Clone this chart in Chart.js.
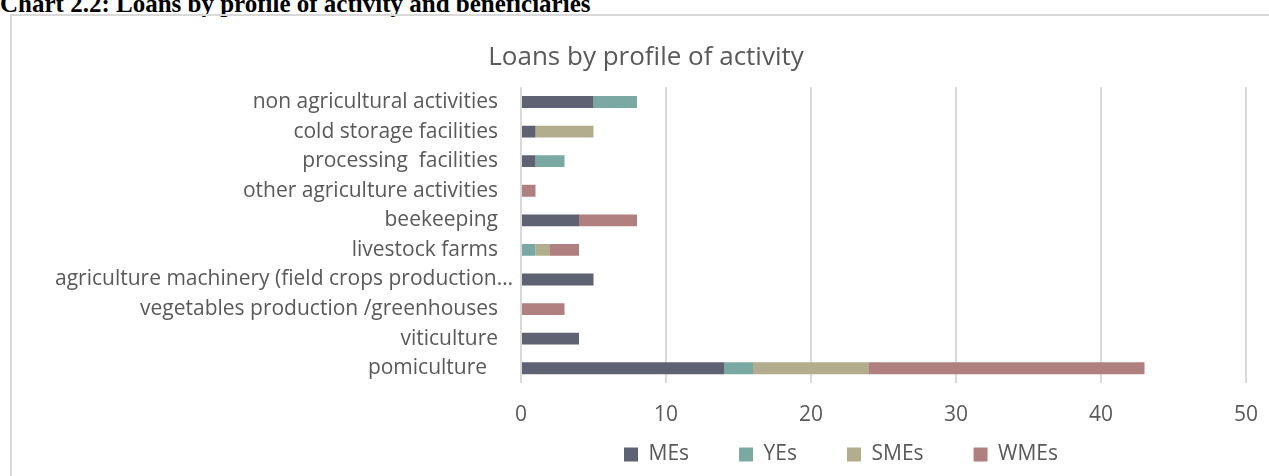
<!DOCTYPE html>
<html>
<head>
<meta charset="utf-8">
<script src="https://cdn.jsdelivr.net/npm/chart.js@4"></script>
<style>
  html, body { margin: 0; padding: 0; background: #ffffff; }
  body { width: 1269px; height: 476px; position: relative; overflow: hidden; }
  #heading {
    position: absolute; left: 0; top: -9px; margin: 0;
    font: bold 25px "Liberation Serif", serif; line-height: 25px;
    color: #000000; white-space: nowrap;
  }
  #frame {
    position: absolute; left: 10px; top: 14px; width: 1270px; height: 480px;
    border-left: 2px solid #d9d9d9; border-top: 2px solid #d9d9d9;
    box-sizing: border-box;
  }
  #wrap { position: absolute; left: 12px; top: 16px; width: 1257px; height: 460px; }
</style>
</head>
<body>
<div id="heading">Chart 2.2: Loans by profile of activity and beneficiaries</div>
<div id="frame"></div>
<div id="wrap"><canvas id="chart"></canvas></div>
<script>
// Loans per activity profile, split by beneficiary group
const categories = [
  'non agricultural activities',
  'cold storage facilities',
  'processing  facilities',
  'other agriculture activities',
  'beekeeping',
  'livestock farms',
  'agriculture machinery (field crops production…',
  'vegetables production /greenhouses',
  'viticulture',
  'pomiculture  '
];
const seriesNames = ['MEs', 'YEs', 'SMEs', 'WMEs'];
const mes  = [5, 1, 1, 0, 4, 0, 5, 0, 4, 14];
const yes  = [3, 0, 2, 0, 0, 1, 0, 0, 0, 2];
const smes = [0, 4, 0, 0, 0, 1, 0, 0, 0, 8];
const wmes = [0, 0, 0, 1, 4, 2, 0, 3, 0, 19];
const xTicks = [0, 10, 20, 30, 40, 50];

const colors = ['#5f6273', '#7aa9a4', '#b2ae8d', '#b07f80'];
const textColor = '#595959';
const font = 'Open Sans';

const datasets = [mes, yes, smes, wmes].map((values, i) => ({
  label: seriesNames[i],
  data: values,
  backgroundColor: colors[i],
  borderWidth: 0,
  categoryPercentage: 0.8,
  barPercentage: 0.5
}));

// Fine placement of the title, the legend row and the one over-long category label
const placement = {
  id: 'placement',
  afterLayout(chart) {
    const tb = chart.titleBlock;
    tb.left += 17;
    tb.right += 17;

    const lg = chart.legend;
    const pad = chart.options.plugins.legend.labels.padding;
    const w = lg.right - lg.left;
    lg.left = 612 - pad;
    lg.right = lg.left + w;
    lg.top = 428 - pad;
    lg.bottom = chart.height;
  },
  beforeDraw(chart) {
    const y = chart.scales.y;
    const items = y.getLabelItems();
    const longest = items[6];
    if (longest && !longest._shifted) {
      longest.options.translation[0] += 15;
      longest._shifted = true;
    }
  }
};

new Chart(document.getElementById('chart'), {
  type: 'bar',
  data: { labels: categories, datasets },
  plugins: [placement],
  options: {
    indexAxis: 'y',
    responsive: true,
    maintainAspectRatio: false,
    animation: false,
    layout: { padding: { left: 0, right: 23, top: 0, bottom: 0 } },
    plugins: {
      title: {
        display: true,
        text: 'Loans by profile of activity',
        color: textColor,
        font: { family: font, size: 26, weight: 'normal' },
        padding: { top: 26, bottom: 14 }
      },
      legend: {
        display: true,
        position: 'bottom',
        align: 'start',
        maxHeight: 48,
        labels: {
          color: textColor,
          font: { family: font, size: 21 },
          boxWidth: 14,
          boxHeight: 14,
          padding: 50
        }
      },
      tooltip: { enabled: false }
    },
    scales: {
      x: {
        stacked: true,
        min: 0,
        max: 50,
        afterBuildTicks(scale) { scale.ticks = xTicks.map(v => ({ value: v })); },
        afterFit(scale) {
          scale.height = 45;
          scale.paddingLeft = 0;
          scale.paddingRight = 0;
        },
        grid: { color: '#d9d9d9', lineWidth: 2, drawTicks: false },
        border: { display: false },
        ticks: {
          color: textColor,
          font: { family: font, size: 21 },
          padding: 19
        }
      },
      y: {
        stacked: true,
        afterFit(scale) { scale.width = 509; },
        grid: { display: false, drawTicks: false },
        border: { display: false },
        ticks: {
          color: textColor,
          font: { family: font, size: 21 },
          padding: 23,
          autoSkip: false
        }
      }
    }
  }
});
</script>
</body>
</html>
